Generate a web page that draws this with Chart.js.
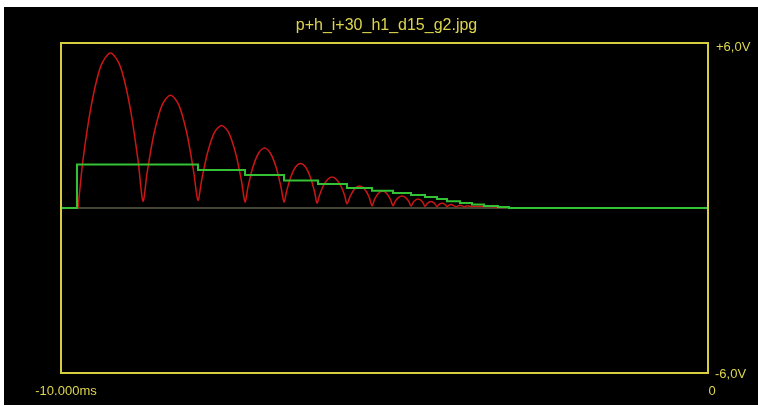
<!DOCTYPE html>
<html>
<head>
<meta charset="utf-8">
<script src="https://cdn.jsdelivr.net/npm/chart.js@4/dist/chart.umd.min.js"></script>
<style>
  html, body { margin: 0; padding: 0; background: #ffffff; }
  #scope { position: absolute; left: 4px; top: 7px; width: 754px; height: 398px; background: #000000; }
  canvas { display: block; }
</style>
</head>
<body>
<div id="scope"><canvas id="c" width="754" height="398"></canvas></div>
<script>
// Trace title and axis annotations
const traceTitle = 'p+h_i+30_h1_d15_g2.jpg';
const timeLabels = ['-10.000ms', '0'];
const voltLabels = ['+6,0V', '-6,0V'];
const timeRange = [-10, 0];   // ms
const voltRange = [-6, 6];    // V

// Rectified signal (red), time in ms, amplitude in V
const redTime = [
  -9.737, -9.662, -9.536, -9.386, -9.235, -9.084, -8.934, -8.808,
  -8.733, -8.669, -8.563, -8.436, -8.308, -8.180, -8.053, -7.947,
  -7.883, -7.828, -7.737, -7.628, -7.519, -7.410, -7.301, -7.210,
  -7.156, -7.111, -7.036, -6.945, -6.855, -6.765, -6.674, -6.599,
  -6.553, -6.515, -6.451, -6.375, -6.298, -6.221, -6.145, -6.081,
  -6.043, -6.008, -5.950, -5.880, -5.811, -5.742, -5.672, -5.614,
  -5.580, -5.531, -5.463, -5.386, -5.309, -5.241,
  -5.193, -5.153, -5.096, -5.031, -4.966, -4.910,
  -4.869, -4.835, -4.786, -4.730, -4.674, -4.625,
  -4.590, -4.547, -4.482, -4.417,
  -4.374, -4.337, -4.281, -4.226,
  -4.189, -4.157, -4.111, -4.065,
  -4.034, -3.997, -3.957, -3.895, -3.833, -3.771, -3.720, -3.679,
  -3.550, -3.369, -3.200
];
const redVolts = [
  0.00, 1.71, 3.68, 5.15, 5.64, 5.15, 3.68, 1.71,
  0.25, 1.28, 2.70, 3.75, 4.10, 3.75, 2.70, 1.28,
  0.28, 0.98, 1.99, 2.75, 3.00, 2.75, 1.99, 0.98,
  0.22, 0.75, 1.47, 2.00, 2.18, 2.00, 1.47, 0.75,
  0.22, 0.59, 1.11, 1.49, 1.62, 1.49, 1.11, 0.59,
  0.18, 0.44, 0.79, 1.04, 1.13, 1.04, 0.79, 0.44,
  0.15, 0.42, 0.69, 0.80, 0.69, 0.42,
  0.08, 0.32, 0.53, 0.62, 0.53, 0.32,
  0.08, 0.24, 0.38, 0.44, 0.38, 0.24,
  0.07, 0.24, 0.33, 0.24,
  0.06, 0.17, 0.24, 0.17,
  0.05, 0.13, 0.17, 0.13,
  0.05, 0.11, 0.12, 0.05, 0.10, 0.05, 0.08, 0.06,
  0.06, 0.05, 0.02
];

// Averaged level (green), held from each time until the next
const greenTime = [
  -10.000, -9.753, -7.883, -7.156, -6.553, -6.028, -5.580, -5.193,
  -4.869, -4.590, -4.374, -4.189, -4.034, -3.833, -3.648, -3.462,
  -3.246, -3.076, 0.000
];
const greenVolts = [
  0.00, 1.58, 1.38, 1.20, 1.00, 0.87, 0.73, 0.63,
  0.55, 0.47, 0.40, 0.33, 0.25, 0.18, 0.13, 0.07,
  0.04, 0.00, 0.00
];

const zip = (xs, ys) => xs.map((x, i) => ({ x: x, y: ys[i] }));

const YELLOW = '#d6ce3e';
const TEXT = '#ddd54e';
const FONT = '"Liberation Sans", Arial, sans-serif';

const scopeFrame = {
  id: 'scopeFrame',
  beforeDatasetsDraw(chart) {
    const { ctx, chartArea: a, scales } = chart;
    const y0 = scales.y.getPixelForValue(0);
    ctx.save();
    ctx.strokeStyle = '#5c5c48';
    ctx.lineWidth = 1.5;
    ctx.beginPath();
    ctx.moveTo(a.left, y0);
    ctx.lineTo(a.right, y0);
    ctx.stroke();
    ctx.restore();
  },
  afterDraw(chart) {
    const { ctx, chartArea: a } = chart;
    ctx.save();
    ctx.strokeStyle = YELLOW;
    ctx.lineWidth = 2;
    ctx.strokeRect(a.left, a.top, a.right - a.left, a.bottom - a.top);

    ctx.fillStyle = TEXT;
    ctx.textBaseline = 'middle';
    ctx.font = '16px ' + FONT;
    ctx.textAlign = 'center';
    ctx.fillText(traceTitle, (a.left + a.right) / 2 + 2, 19);

    ctx.font = '13px ' + FONT;
    ctx.textAlign = 'left';
    ctx.fillText(voltLabels[0], a.right + 8, a.top + 4);
    ctx.fillText(voltLabels[1], a.right + 7, a.bottom + 1);

    ctx.textAlign = 'center';
    ctx.fillText(timeLabels[0], a.left + 5, a.bottom + 18);
    ctx.fillText(timeLabels[1], a.right + 4, a.bottom + 18);
    ctx.restore();
  }
};

new Chart(document.getElementById('c'), {
  type: 'line',
  data: {
    datasets: [
      {
        label: 'level',
        data: zip(greenTime, greenVolts),
        borderColor: '#34c234',
        borderWidth: 2,
        stepped: 'before',
        pointRadius: 0,
        fill: false
      },
      {
        label: 'signal',
        data: zip(redTime, redVolts),
        borderColor: '#cc1616',
        borderWidth: 1.5,
        tension: 0.3,
        pointRadius: 0,
        fill: false
      }
    ]
  },
  options: {
    responsive: false,
    animation: false,
    events: [],
    layout: { padding: { left: 57, top: 36, right: 50, bottom: 32 } },
    plugins: { legend: { display: false }, title: { display: false }, tooltip: { enabled: false } },
    scales: {
      x: { type: 'linear', min: timeRange[0], max: timeRange[1], display: false },
      y: { type: 'linear', min: voltRange[0], max: voltRange[1], display: false }
    }
  },
  plugins: [scopeFrame]
});
</script>
</body>
</html>
